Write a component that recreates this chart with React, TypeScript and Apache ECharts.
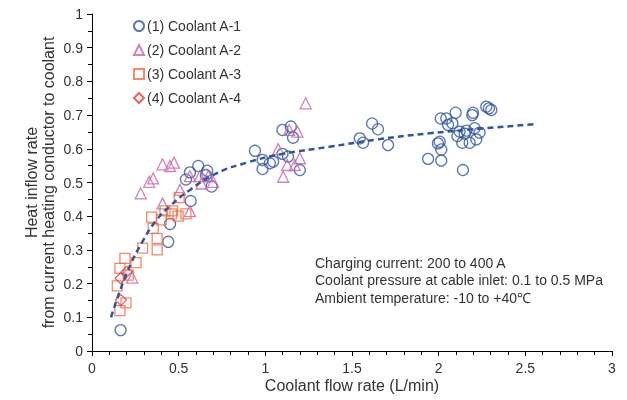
import React, { useEffect, useRef } from "react";
import * as echarts from "echarts";

const coolantA1: [number, number][] = [
  [0.165, 0.062], [0.44, 0.324], [0.45, 0.377], [0.569, 0.445],
  [0.613, 0.549], [0.565, 0.53], [0.542, 0.509], [0.665, 0.535], [0.69, 0.488], [0.657, 0.522],
  [0.94, 0.594], [0.984, 0.567], [1.026, 0.557], [0.984, 0.54], [1.045, 0.562],
  [1.099, 0.656], [1.147, 0.666], [1.16, 0.633], [1.099, 0.585], [1.131, 0.577], [1.199, 0.537],
  [1.616, 0.675], [1.65, 0.658], [1.545, 0.631], [1.564, 0.618], [1.708, 0.611],
  [1.939, 0.57], [2.015, 0.565], [1.996, 0.616], [2.006, 0.621], [2.015, 0.598], [2.14, 0.537],
  [2.012, 0.69], [2.044, 0.69], [2.098, 0.707], [2.054, 0.671], [2.079, 0.676],
  [2.198, 0.707], [2.194, 0.7], [2.275, 0.725], [2.29, 0.72], [2.304, 0.715],
  [2.121, 0.651], [2.108, 0.638], [2.16, 0.654], [2.207, 0.661], [2.236, 0.648],
  [2.217, 0.628], [2.179, 0.618], [2.136, 0.618], [2.15, 0.645],
];
const coolantA2: [number, number][] = [
  [0.232, 0.218], [0.281, 0.468], [0.33, 0.502], [0.353, 0.512], [0.407, 0.554], [0.45, 0.549],
  [0.473, 0.559], [0.407, 0.438], [0.507, 0.478], [0.565, 0.415], [0.565, 0.519], [0.622, 0.519],
  [0.632, 0.497], [0.67, 0.519], [0.699, 0.502], [1.074, 0.599], [1.103, 0.517], [1.126, 0.552],
  [1.137, 0.656], [1.17, 0.552], [1.185, 0.651], [1.199, 0.572], [1.233, 0.735],
];
const coolantA3: [number, number][] = [
  [0.146, 0.193], [0.161, 0.12], [0.196, 0.143], [0.161, 0.245], [0.19, 0.275], [0.254, 0.262],
  [0.292, 0.305], [0.376, 0.3], [0.376, 0.334], [0.353, 0.364], [0.344, 0.397], [0.4, 0.389],
  [0.421, 0.416], [0.465, 0.416], [0.459, 0.407], [0.497, 0.4], [0.542, 0.407], [0.503, 0.455],
  [0.209, 0.225],
];
const coolantA4: [number, number][] = [
  [0.165, 0.216], [0.2, 0.235], [0.167, 0.151],
];
const trendLine: [number, number][] = [
  [0.11, 0.1], [0.2, 0.23], [0.296, 0.329], [0.373, 0.389], [0.45, 0.43], [0.565, 0.478],
  [0.718, 0.527], [0.9, 0.56], [1.1, 0.585], [1.37, 0.606], [1.65, 0.628], [1.948, 0.646],
  [2.25, 0.66], [2.55, 0.673],
];
const seriesNames = ["(1) Coolant A-1", "(2) Coolant A-2", "(3) Coolant A-3", "(4) Coolant A-4"];
const noteLines = [
  "Charging current: 200 to 400 A",
  "Coolant pressure at cable inlet: 0.1 to 0.5 MPa",
  "Ambient temperature: -10 to +40\u2103",
];

const FONT = "'Liberation Sans', Arial, sans-serif";
const TXT = "#333333";

export default function App() {
  const ref = useRef<HTMLDivElement>(null);
  useEffect(() => {
    if (!ref.current) return;
    const chart = echarts.init(ref.current, undefined, { renderer: "svg" });
    const mk = (name: string, data: [number, number][], symbol: string, color: string, size: number) => ({
      name,
      type: "scatter",
      data,
      symbol,
      symbolSize: size,
      itemStyle: { color: "rgba(255,255,255,0)", borderColor: color, borderWidth: 1.3 },
      z: 3,
    });
    chart.setOption({
      animation: false,
      textStyle: { fontFamily: FONT },
      grid: { left: 92, right: 15, top: 14, bottom: 49 },
      legend: {
        orient: "vertical",
        left: 128,
        top: 14,
        itemGap: 10,
        itemWidth: 10,
        itemHeight: 10,
        data: seriesNames,
        textStyle: { fontFamily: FONT, fontSize: 14, color: TXT, padding: [0, 0, 0, -2] },
      },
      xAxis: {
        type: "value",
        min: 0,
        max: 3,
        interval: 0.5,
        name: "Coolant flow rate (L/min)",
        nameLocation: "middle",
        nameGap: 26,
        nameMoveOverlap: false,
        nameTextStyle: { fontFamily: FONT, fontSize: 16, color: TXT },
        axisLine: { lineStyle: { color: "#000", width: 1 } },
        axisTick: { show: true, length: 5, lineStyle: { color: "#000" } },
        minorTick: { show: true, splitNumber: 5, length: 4, lineStyle: { color: "#000" } },
        axisLabel: { fontFamily: FONT, fontSize: 14, color: TXT, margin: 10 },
        splitLine: { show: false },
      },
      yAxis: {
        type: "value",
        min: 0,
        max: 1,
        interval: 0.1,
        name: "Heat inflow rate\nfrom current heating conductor to coolant",
        nameLocation: "middle",
        nameRotate: 90,
        nameGap: 35,
        nameMoveOverlap: false,
        nameTextStyle: { fontFamily: FONT, fontSize: 16, color: TXT, lineHeight: 17 },
        axisLine: { show: true, lineStyle: { color: "#000", width: 1 } },
        axisTick: { show: true, length: 5, lineStyle: { color: "#000" } },
        minorTick: { show: true, splitNumber: 2, length: 4, lineStyle: { color: "#000" } },
        axisLabel: { fontFamily: FONT, fontSize: 14, color: TXT, margin: 9 },
        splitLine: { show: false },
      },
      series: [
        mk(seriesNames[0], coolantA1, "circle", "#2F55A5", 11),
        mk(seriesNames[1], coolantA2, "triangle", "#C862A8", 11),
        mk(seriesNames[2], coolantA3, "rect", "#F26B3A", 10),
        mk(seriesNames[3], coolantA4, "diamond", "#E63C3C", 11),
        {
          name: "trend",
          type: "line",
          data: trendLine,
          smooth: true,
          symbol: "none",
          lineStyle: { color: "#2F55A5", width: 2.5, type: [6, 4] },
          z: 4,
        },
      ],
      graphic: [
        {
          type: "text",
          left: 315,
          top: 254,
          style: {
            text: noteLines.join("\n"),
            font: `14px ${FONT}`,
            fill: TXT,
            lineHeight: 17.5,
          },
        },
      ],
    });
    return () => chart.dispose();
  }, []);
  return <div ref={ref} style={{ position: "fixed", left: 0, top: 0, width: 627, height: 400 }} />;
}
